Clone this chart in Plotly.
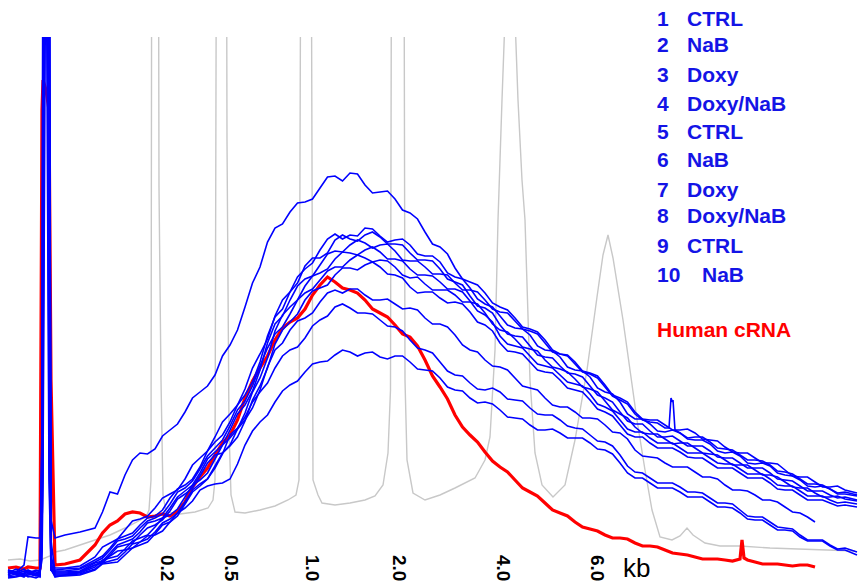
import plotly.graph_objects as go

# ---------------------------------------------------------------------------
# Electropherogram overlay: 10 RNA samples, human cRNA reference and the ladder
# x = migration time (arbitrary units), y = fluorescence (FU)
# ---------------------------------------------------------------------------

# shared migration-time grid for the sample traces
t = [8, 16, 24, 28, 36, 40,
     42, 43, 46, 49, 51,
     55, 65, 80,
     95, 110, 125, 140, 155, 170, 185, 200, 215, 230,
     245, 260, 275, 290, 305, 320, 335, 350, 365, 380,
     395, 410, 425, 440, 455, 470, 485, 500, 515, 530,
     545, 560, 575, 590, 605, 620, 635, 650, 665, 680,
     695, 710, 725, 740, 755, 770, 785, 800, 815, 830,
     845, 857]

sample_1 = [10, 8, 15, 43, 42, 42, 150, 700, 700, 700, 60, 42, 45, 48,
            52, 88, 105, 127, 131, 150, 168, 188, 205, 235,
            273, 313, 352, 368, 378, 392, 404, 407, 395, 388,
            381, 367, 348, 333, 312, 298, 287, 273, 262, 251,
            240, 226, 216, 206, 193, 180, 166, 158, 152, 147,
            143, 138, 131, 125, 120, 115, 108, 101, 96, 91,
            88, 85]
sample_2 = [8, 6, 9, 7, 10, 8, 20, 100, 700, 100, 10, 10, 11, 12,
            20, 32, 44, 55, 64, 82, 95, 113, 138, 158,
            185, 218, 263, 288, 311, 330, 346, 345, 352, 344,
            340, 335, 324, 318, 303, 292, 276, 264, 252, 245,
            230, 223, 210, 203, 188, 178, 161, 156, 148, 147,
            140, 136, 127, 124, 116, 114, 105, 100, 93, 91,
            86, 84]
sample_3 = [5, 9, 6, 8, 4, 7, 60, 300, 1000, 550, 20, 12, 12, 14,
            23, 37, 50, 61, 72, 86, 101, 122, 143, 166,
            191, 226, 264, 288, 314, 322, 340, 341, 345, 343,
            336, 327, 320, 311, 298, 284, 272, 255, 244, 234,
            223, 214, 206, 194, 182, 168, 156, 149, 143, 139,
            134, 129, 122, 117, 112, 107, 100, 94, 89, 85,
            83, 80]
sample_4 = [10, 7, 11, 6, 9, 10, 140, 700, 800, 900, 40, 8, 8, 9,
            17, 27, 38, 48, 59, 72, 89, 107, 128, 150,
            175, 210, 256, 280, 301, 315, 329, 335, 337, 335,
            329, 319, 313, 306, 297, 290, 280, 268, 259, 249,
            237, 226, 218, 207, 195, 182, 168, 160, 155, 150,
            147, 140, 133, 127, 122, 117, 110, 103, 98, 93,
            90, 87]
sample_5 = [4, 6, 3, 7, 5, 4, 40, 150, 2000, 150, 15, 6, 6, 7,
            13, 22, 31, 42, 53, 65, 83, 100, 121, 142,
            167, 202, 249, 273, 294, 307, 321, 327, 330, 328,
            321, 311, 305, 298, 291, 279, 265, 244, 234, 224,
            214, 205, 196, 186, 173, 160, 148, 142, 137, 132,
            127, 122, 116, 111, 106, 101, 94, 89, 84, 80,
            78, 76]
sample_6 = [7, 11, 8, 10, 6, 9, 30, 200, 900, 200, 10, 9, 9, 11,
            18, 30, 41, 52, 62, 76, 92, 111, 132, 154,
            179, 214, 246, 266, 287, 300, 313, 320, 322, 320,
            313, 302, 296, 290, 285, 278, 267, 250, 241, 231,
            220, 211, 201, 191, 179, 166, 153, 146, 141, 137,
            132, 126, 120, 115, 110, 105, 98, 92, 87, 83,
            81, 79]
sample_7 = [3, 4, 6, 3, 5, 3, 90, 350, 1000, 600, 10, 4, 4, 5,
            10, 17, 25, 35, 46, 58, 76, 94, 114, 134,
            159, 194, 236, 258, 280, 292, 305, 312, 315, 313,
            305, 293, 288, 282, 278, 268, 255, 237, 228, 218,
            208, 200, 190, 180, 168, 155, 143, 137, 132, 128,
            122, 117, 112, 107, 102, 97, 90, 85, 80, 77,
            75, 73]
sample_8 = [9, 5, 7, 9, 8, 6, 125, 500, 900, 700, 25, 7, 7, 8,
            15, 25, 35, 45, 55, 69, 86, 104, 125, 135,
            160, 190, 230, 250, 262, 278, 290, 291, 285, 280,
            276, 272, 262, 256, 245, 230, 220, 213, 202, 192,
            182, 173, 168, 162, 155, 147, 130, 123, 117, 113,
            108, 103, 95, 90, 85, 80, 73, 67, 58, None,
            None, None]
sample_9 = [6, 8, 4, 5, 7, 5, 50, 120, 1200, 120, 18, 5, 5, 6,
            11, 19, 28, 38, 48, 61, 78, 96, 112, 145,
            163, 188, 212, 230, 242, 260, 273, 272, 267, 260,
            253, 240, 230, 218, 205, 197, 190, 188, 180, 172,
            165, 160, 152, 145, 138, 125, 108, 102, 97, 93,
            88, 82, 77, 70, 63, 58, 52, 45, 40, 35,
            32, 28]
sample_10 = [2, 3, 5, 4, 2, 4, 95, 550, 800, 800, 12, 3, 5, 8,
             15, 24, 30, 38, 45, 58, 72, 90, 96, 101,
             135, 158, 178, 195, 208, 218, 225, 228, 227, 223,
             224, 218, 210, 202, 190, 182, 178, 170, 162, 155,
             150, 147, 142, 137, 130, 117, 102, 97, 92, 88,
             83, 78, 73, 67, 60, 55, 50, 43, 39, 34,
             30, 25]
human_crna = [12, 13, 11, 13, 12, 12, 470, 500, 490, 470, 200, 15, 16, 20,
              35, 55, 66, 67, 64, 64, 78, 103, 125, 145,
              182, 212, 240, 258, 271, 295, 298, 290, 280, 267,
              255, 243, 220, 193, 165, 145, 128, 113, 100, 88,
              77, 67, 58, 51, 45, 42, 37, 34, 30, 26,
              23, 21, 20, 21, 18, 16, 15, 15, 13, None,
              None, None]

# intermediate readings, half-way between grid times 95 ... 845
sample_1_mid = [68, 86, 120, 126, 144, 156, 182, 194, 224, 250,
                297, 338, 356, 377, 381, 403, 399, 406, 387, 389,
                370, 361, 336, 326, 301, 295, 277, 270, 253, 248,
                230, 224, 208, 202, 184, 176, 160, 157, 178, 142,
                143, 132, 130, 120, 119, 109, 106, 96, 95, 87]
sample_2_mid = [24, 41, 47, 62, 70, 91, 101, 129, 145, 175,
                198, 244, 271, 303, 317, 341, 341, 344, 351, 338,
                341, 326, 324, 307, 301, 281, 273, 255, 251, 234,
                229, 213, 209, 192, 186, 166, 161, 149, 150, 141,
                140, 129, 128, 117, 117, 107, 104, 94, 94, 86]
sample_3_mid = [33, 41, 59, 64, 82, 90, 115, 129, 158, 175,
                212, 241, 280, 297, 322, 327, 345, 339, 348, 336,
                335, 320, 319, 301, 295, 274, 267, 246, 243, 225,
                222, 207, 203, 185, 178, 159, 156, 143, 144, 134,
                134, 123, 122, 112, 112, 101, 99, 89, 89, 82]
sample_4_mid = [19, 35, 41, 57, 62, 83, 95, 121, 135, 166,
                189, 237, 264, 294, 304, 326, 328, 340, 332, 336,
                320, 319, 306, 305, 290, 288, 271, 267, 251, 246,
                228, 225, 209, 204, 185, 178, 161, 160, 150, 151,
                141, 139, 128, 127, 117, 116, 104, 103, 93, 94]
sample_5_mid = [20, 24, 39, 45, 62, 71, 95, 107, 135, 151,
                188, 222, 265, 280, 304, 311, 328, 325, 333, 321,
                319, 305, 304, 291, 288, 269, 258, 236, 232, 216,
                212, 198, 194, 176, 169, 151, 148, 137, 137, 127,
                127, 117, 116, 106, 106, 95, 94, 84, 84, 77]
sample_6_mid = [22, 39, 44, 59, 66, 88, 99, 124, 140, 170,
                194, 232, 253, 280, 291, 309, 313, 325, 318, 319,
                305, 303, 290, 290, 278, 276, 256, 248, 233, 229,
                213, 208, 193, 188, 170, 162, 147, 146, 136, 137,
                127, 125, 115, 115, 105, 103, 93, 92, 83, 84]
sample_7_mid = [16, 18, 32, 38, 55, 64, 88, 101, 127, 143,
                180, 212, 250, 266, 289, 295, 312, 310, 318, 306,
                302, 287, 288, 277, 276, 258, 249, 229, 226, 210,
                207, 192, 188, 171, 164, 146, 143, 132, 132, 123,
                122, 112, 112, 102, 102, 91, 90, 80, 80, 74]
sample_8_mid = [18, 33, 37, 52, 60, 81, 92, 117, 127, 151,
                172, 213, 237, 259, 267, 287, 287, 291, 280, 281,
                271, 270, 256, 253, 235, 228, 214, 210, 194, 190,
                175, 173, 162, 161, 148, 141, 124, 122, 113, 113,
                103, 101, 90, 89, 80, 78, 68, 63, None, None]
sample_9_mid = [17, 21, 36, 41, 57, 67, 90, 101, 126, 152,
                178, 197, 224, 233, 254, 264, 276, 267, 266, 254,
                249, 232, 227, 209, 204, 191, 192, 181, 179, 166,
                165, 154, 151, 139, 134, 114, 107, 97, 97, 88,
                87, 77, 76, 64, 63, 53, 51, 40, 40, 31]
sample_10_mid = [17, 29, 32, 44, 49, 67, 79, 94, 97, 116,
                 149, 165, 189, 199, 216, 219, 230, 224, 228, 221,
                 224, 211, 209, 193, 189, 177, 176, 163, 161, 150,
                 151, 142, 142, 131, 126, 107, 102, 92, 92, 83,
                 83, 73, 72, 61, 60, 50, 49, 39, 39, 30]
human_crna_mid = [47, 59, 68, 63, 66, 69, 93, 112, 137, 160,
                  199, 224, 252, 262, 285, 303, 292, 287, 271, 263,
                  246, 234, 204, 181, 153, 138, 119, 108, 92, 84,
                  70, 64, 53, 49, 42, 41, 34, 33, 27, 25,
                  21, 21, 19, 20, 16, 16, 14, 15, None, None]

# short artefact spikes read between grid points
sample_1_spike_t = [669, 671, 673, 675]
sample_1_spike_fu = [152, 182, 180, 150]
human_crna_spike_t = [742, 744]
human_crna_spike_fu = [40, 22]

# size ladder (peaks above the display range are clipped)
ladder_t = [8, 20, 30, 40, 50, 55, 65, 80, 95, 110, 125, 140, 146, 149, 151,
            152, 158, 159, 161, 163, 166, 180, 195, 208, 213, 215,
            217, 226, 227, 229, 231, 235, 245, 260, 275, 288, 296, 299,
            301.5, 310.5, 313, 318, 322, 335, 350, 365, 375, 383, 388, 390.5,
            392, 403.5, 405, 407, 413, 425, 440, 455, 465, 475, 485, 490, 495,
            498, 502, 510, 518, 522, 525, 530, 535, 542, 553, 565, 575, 587,
            597, 603, 608, 613, 623, 630, 637, 645, 652, 660, 672, 680, 687,
            693, 705, 720, 740, 770, 800, 830, 855]
ladder_fu = [20, 21, 19, 20, 24, 28, 30, 35, 40, 45, 52, 60, 63, 70, 100,
             900, 900, 393, 200, 85, 68, 66, 68, 72, 80, 100,
             900, 900, 440, 150, 85, 68, 67, 70, 74, 80, 85, 100,
             900, 900, 100, 85, 77, 75, 77, 80, 84, 95, 127, 190,
             900, 900, 200, 120, 87, 80, 85, 92, 97, 102, 120, 143, 230,
             360, 480, 700, 480, 400, 360, 200, 127, 95, 83, 95, 140, 210,
             283, 325, 345, 322, 260, 210, 160, 110, 70, 43, 40, 44, 52,
             45, 37, 34, 34, 32, 31, 30, 29]

# size labels of the ladder peaks (kb) and their migration times
ladder_kb = ["0.2", "0.5", "1.0", "2.0", "4.0", "6.0"]
ladder_kb_t = [168, 232, 313, 400, 504, 598]

lane_numbers = ["1", "2", "3", "4", "5", "6", "7", "8", "9", "10"]
lane_names = ["CTRL", "NaB", "Doxy", "Doxy/NaB", "CTRL",
              "NaB", "Doxy", "Doxy/NaB", "CTRL", "NaB"]

samples = [sample_1, sample_2, sample_3, sample_4, sample_5,
           sample_6, sample_7, sample_8, sample_9, sample_10]
samples_mid = [sample_1_mid, sample_2_mid, sample_3_mid, sample_4_mid,
               sample_5_mid, sample_6_mid, sample_7_mid, sample_8_mid,
               sample_9_mid, sample_10_mid]

# half-way times between consecutive grid points 95 ... 845
t_mid = [(t[i] + t[i + 1]) / 2 for i in range(14, 64)]

for s in samples + [human_crna]:
    assert len(s) == len(t)
for s in samples_mid + [human_crna_mid]:
    assert len(s) == len(t_mid)


def merged(*parts):
    pts = []
    for tt, vv in parts:
        pts.extend(zip(tt, vv))
    pts.sort(key=lambda p: p[0])
    return [p[0] for p in pts], [p[1] for p in pts]


BLUE = "#0000ff"
RED = "#ff0000"
GREY = "#c8c8c8"
TEXT_BLUE = "#1414e6"
FONT = "Arial, Liberation Sans, sans-serif"

fig = go.Figure()

fig.add_trace(go.Scatter(x=ladder_t, y=ladder_fu, mode="lines",
                         line=dict(color=GREY, width=1.4),
                         hoverinfo="skip", showlegend=False))

cx, cy = merged((t, human_crna), (t_mid, human_crna_mid),
                (human_crna_spike_t, human_crna_spike_fu))
fig.add_trace(go.Scatter(x=cx, y=cy, mode="lines",
                         line=dict(color=RED, width=3.2),
                         hoverinfo="skip", showlegend=False, connectgaps=False))

for i, (s, sm) in enumerate(zip(samples, samples_mid)):
    parts = [(t, s), (t_mid, sm)]
    if i == 0:
        parts.append((sample_1_spike_t, sample_1_spike_fu))
    sx, sy = merged(*parts)
    fig.add_trace(go.Scatter(x=sx, y=sy, mode="lines",
                             line=dict(color=BLUE, width=1.6),
                             hoverinfo="skip", showlegend=False, connectgaps=False))

W, H, TOP = 859, 587, 37
PLOT_H = H - TOP


def px(x):
    return x / W


def py(y):
    return (H - y) / PLOT_H


annotations = []
rows = [18, 45, 74, 103, 131, 159, 189, 215, 245, 274]
for num, name, row in zip(lane_numbers, lane_names, rows):
    annotations.append(dict(x=px(655), y=py(row), xref="paper", yref="paper",
                            text=f"<b>{num}</b>", showarrow=False,
                            xanchor="left", yanchor="middle",
                            font=dict(family=FONT, size=21, color=TEXT_BLUE)))
    name_x = 700 if len(num) > 1 else 685
    annotations.append(dict(x=px(name_x), y=py(row), xref="paper", yref="paper",
                            text=f"<b>{name}</b>", showarrow=False,
                            xanchor="left", yanchor="middle",
                            font=dict(family=FONT, size=21, color=TEXT_BLUE)))
annotations.append(dict(x=px(655), y=py(329), xref="paper", yref="paper",
                        text="<b>Human cRNA</b>", showarrow=False,
                        xanchor="left", yanchor="middle",
                        font=dict(family=FONT, size=21, color=RED)))

for lab, tk in zip(ladder_kb, ladder_kb_t):
    annotations.append(dict(x=tk, y=py(568), xref="x", yref="paper",
                            text=f"<b>{lab}</b>", showarrow=False, textangle=90,
                            xanchor="center", yanchor="middle",
                            font=dict(family=FONT, size=19, color="black")))
annotations.append(dict(x=636, y=py(568), xref="x", yref="paper",
                        text="kb", showarrow=False,
                        xanchor="center", yanchor="middle",
                        font=dict(family=FONT, size=26, color="black")))

fig.update_layout(
    width=W, height=H,
    margin=dict(l=0, r=0, t=TOP, b=0, pad=0),
    paper_bgcolor="white", plot_bgcolor="white",
    xaxis=dict(range=[0, W], visible=False),
    yaxis=dict(range=[-7, 543], visible=False),
    annotations=annotations,
    showlegend=False,
)

fig.write_html("out.html")
